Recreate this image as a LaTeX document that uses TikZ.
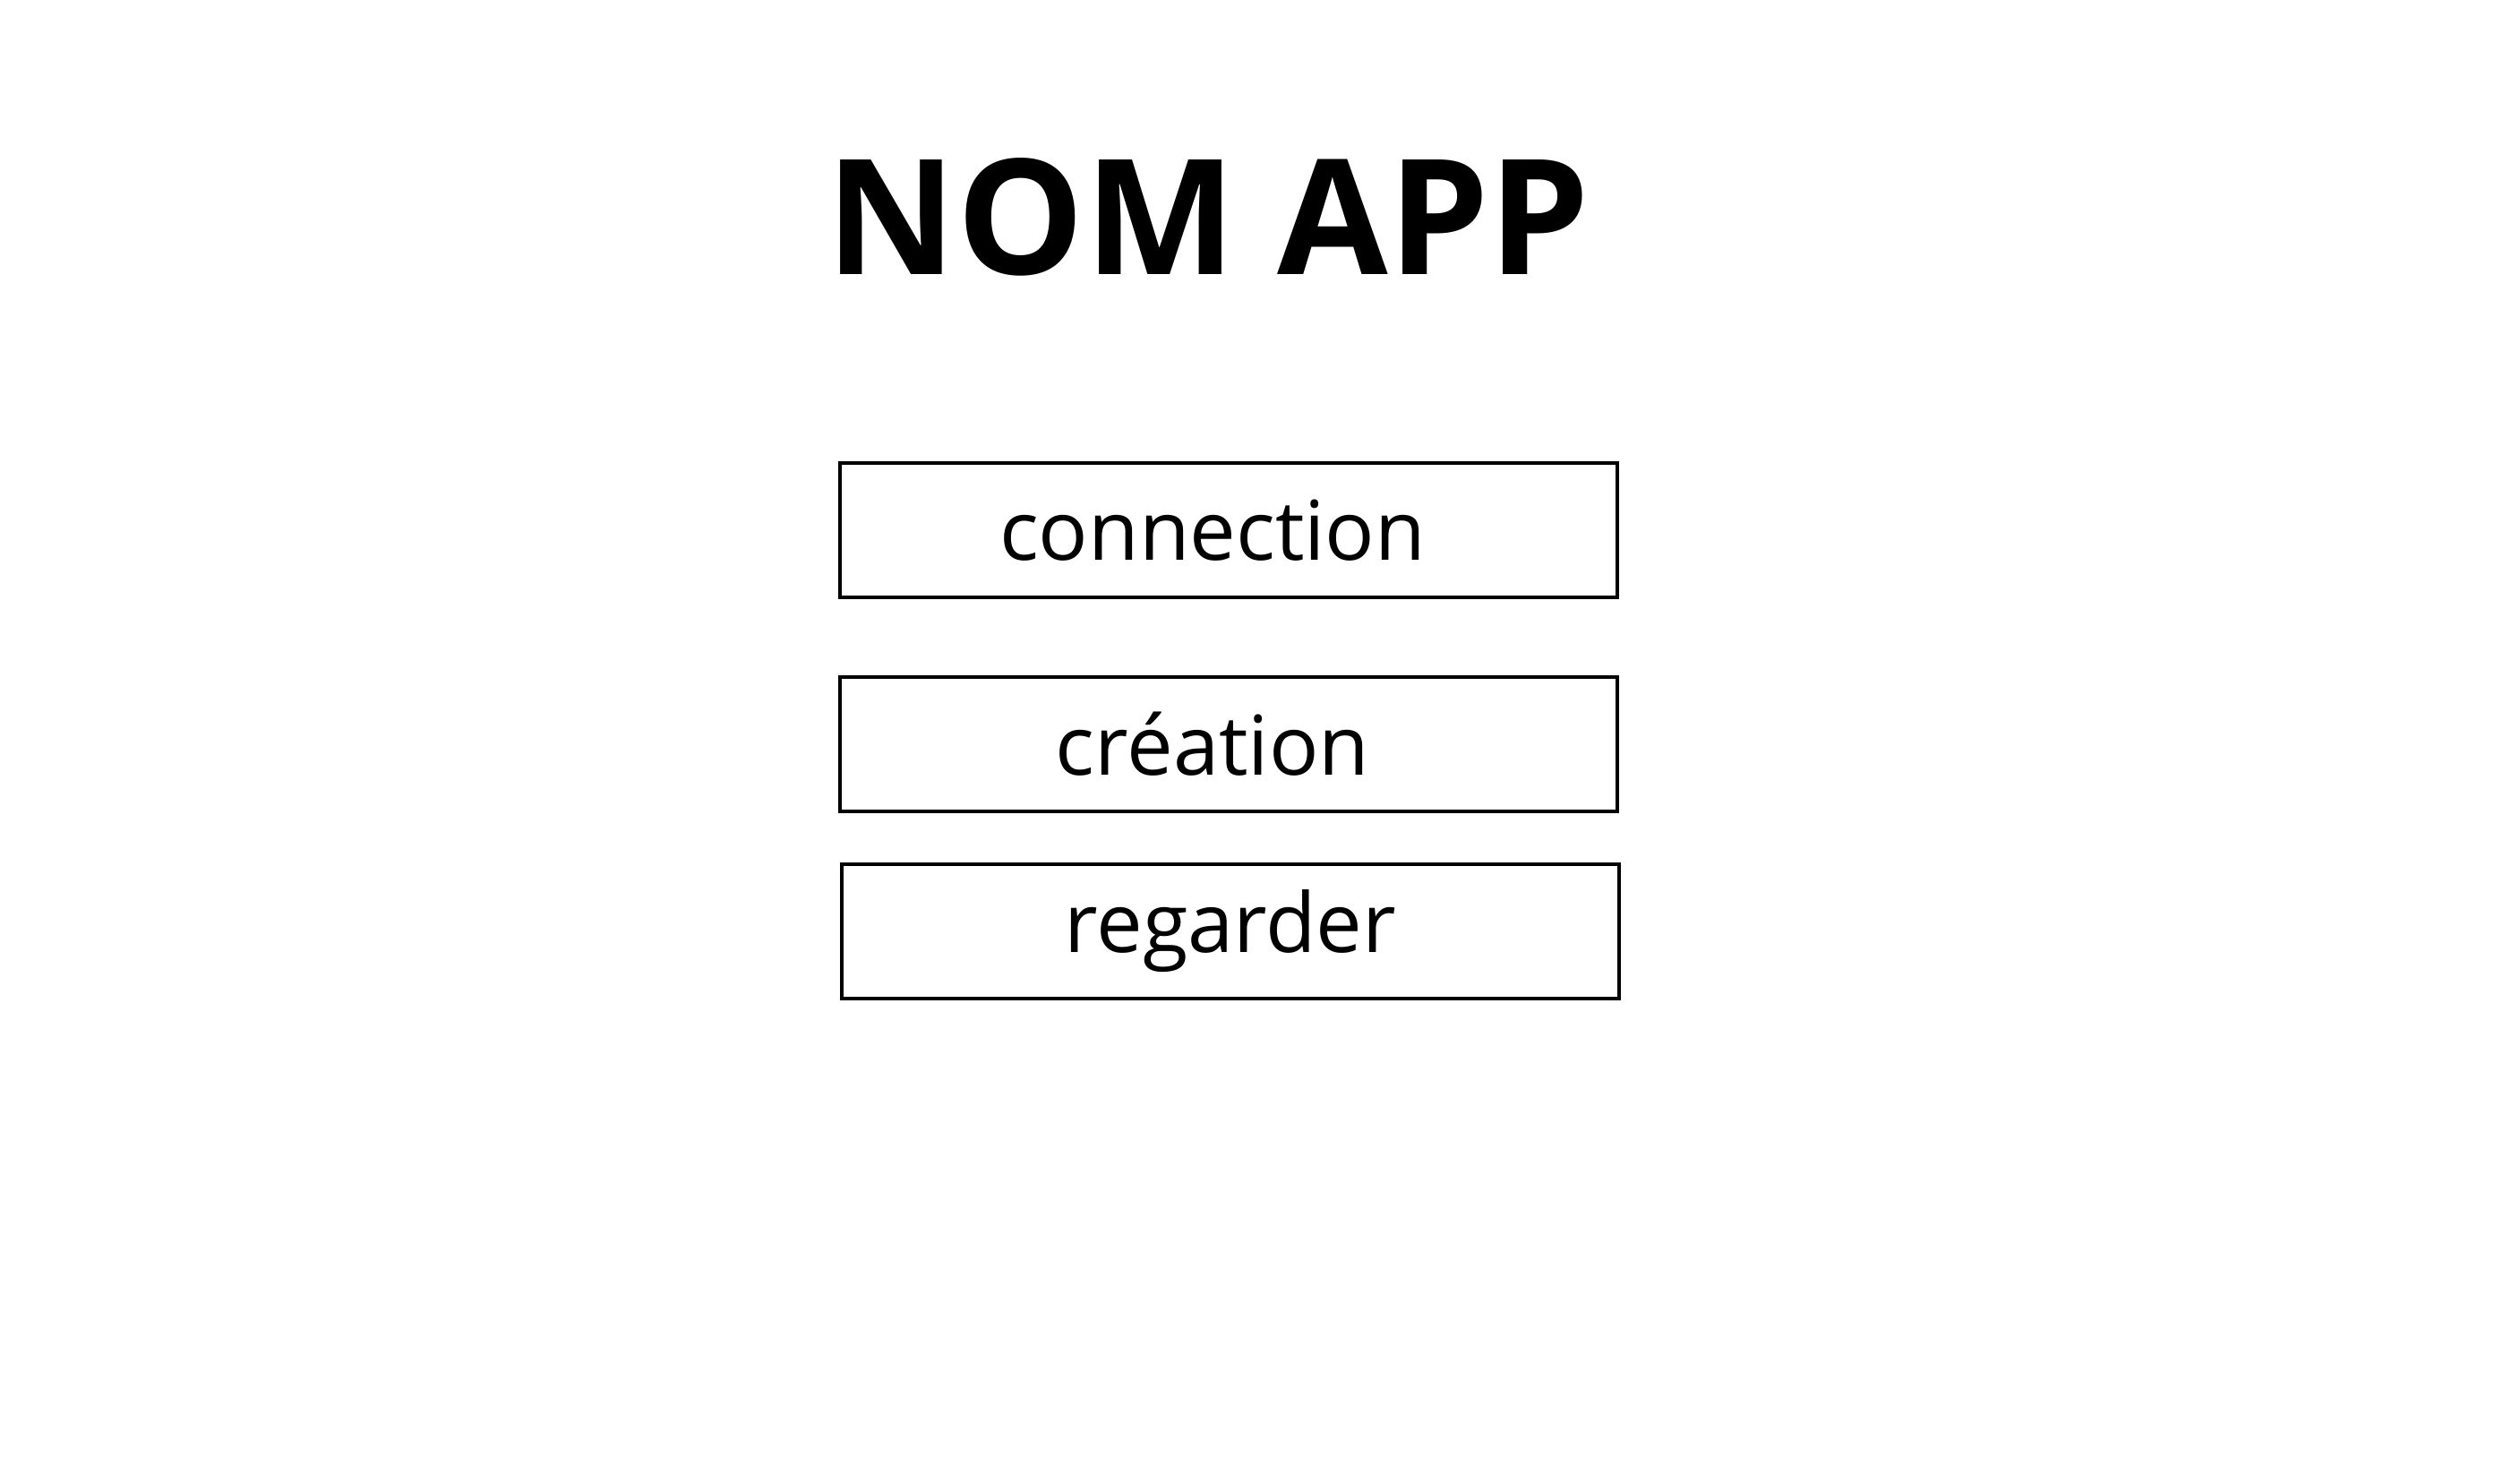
\documentclass[tikz,border=0pt]{standalone}
\usepackage{fontspec}
\setmainfont{Open Sans}
\usepackage{tikz}

\begin{document}
\begin{tikzpicture}[
  bouton/.style={draw, line width=1.1pt, minimum width=8.68cm, minimum height=1.5cm, inner sep=0pt, font=\fontsize{26.2}{30}\selectfont},
  titre/.style={font=\bfseries\fontsize{51}{56}\selectfont}
]

% page
\useasboundingbox (0,0) rectangle (28.14,-16.28);

% centres
\coordinate (T) at (13.49,-2.42);
\coordinate (B1) at (13.72,-5.92);
\coordinate (B2) at (13.72,-8.31);
\coordinate (B3) at (13.74,-10.40);

% title
\node[titre] (nomapp) at (T) {NOM APP};

% boutons
\node[bouton] (connection) at (B1) {connection\kern0.36cm};
\node[bouton] (creation) at (B2) {création\kern0.36cm};
\node[bouton] (regarder) at (B3) {regarder};

\end{tikzpicture}
\end{document}
